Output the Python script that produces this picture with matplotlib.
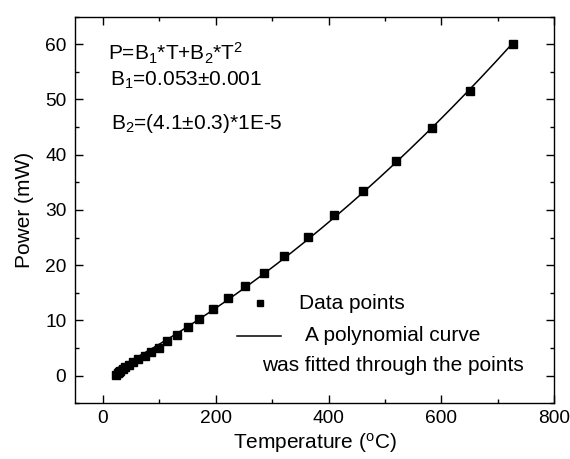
import numpy as np
import matplotlib
matplotlib.use("Agg")
import matplotlib.pyplot as plt
from matplotlib.ticker import MultipleLocator

plt.rcParams['font.family'] = ['Liberation Sans', 'DejaVu Sans']
plt.rcParams['mathtext.fontset'] = 'custom'
plt.rcParams['mathtext.rm'] = 'Liberation Sans'
plt.rcParams['mathtext.it'] = 'Liberation Sans:italic'

# Data
temperature = [24, 26, 28, 31, 35, 40, 46, 54, 63, 74, 86, 99, 114, 131, 150,
               171, 196, 222, 252, 285, 321, 363, 410, 461, 520, 584, 651, 727]
power = [0.2, 0.4, 0.7, 0.9, 1.2, 1.6, 2.0, 2.5, 3.0, 3.5, 4.2, 5.1, 6.2, 7.4, 8.75,
         10.3, 12.1, 14.0, 16.3, 18.6, 21.7, 25.1, 29.1, 33.5, 38.8, 44.8, 51.5, 60.1]

eq_text = "P=B$_1$*T+B$_2$*T$^2$"
b1_text = "B$_1$=0.053$\\pm$0.001"
b2_text = "B$_2$=(4.1$\\pm$0.3)*1E-5"

FS = 15
TICK_FS = 13.8

T = np.array(temperature, dtype=float)
P = np.array(power, dtype=float)
# least-squares fit P = B1*T + B2*T^2
A = np.vstack([T, T**2]).T
coef, *_ = np.linalg.lstsq(A, P, rcond=None)
Tf = np.linspace(T.min(), T.max(), 300)
Pf = coef[0] * Tf + coef[1] * Tf**2

fig = plt.figure(figsize=(5.7, 4.59), dpi=100)
ax = fig.add_axes([0.131, 0.1213, 0.8415, 0.8427])

ax.plot(Tf, Pf, color='black', lw=1.1)
ax.plot(T, P, 's', color='black', markersize=6.0)

ax.set_xlim(-50, 800)
ax.set_ylim(-5, 65)
ax.xaxis.set_major_locator(MultipleLocator(200))
ax.xaxis.set_minor_locator(MultipleLocator(100))
ax.yaxis.set_major_locator(MultipleLocator(10))
ax.yaxis.set_minor_locator(MultipleLocator(5))
ax.tick_params(which='both', direction='in', top=True, right=True, labelsize=TICK_FS, width=1.0)
ax.tick_params(which='major', length=5.5)
ax.tick_params(axis='x', which='major', pad=5)
ax.tick_params(axis='y', which='major', pad=6)
ax.tick_params(which='minor', length=3.2)
for s in ax.spines.values():
    s.set_linewidth(1.0)

ax.set_xlabel("Temperature ($^\\mathregular{o}$C)", fontsize=FS, labelpad=3)
ax.set_ylabel("Power (mW)", fontsize=FS, labelpad=8)

ax.text(0.0696, 0.905, eq_text, transform=ax.transAxes, fontsize=FS, va='center', ha='left')
ax.text(0.074, 0.836, b1_text, transform=ax.transAxes, fontsize=FS, va='center', ha='left')
ax.text(0.076, 0.724, b2_text, transform=ax.transAxes, fontsize=FS, va='center', ha='left')

# legend drawn manually
ax.plot([0.386], [0.259], 's', color='black', markersize=5.0, transform=ax.transAxes, clip_on=False)
ax.text(0.468, 0.259, "Data points", transform=ax.transAxes, fontsize=FS, va='center', ha='left')
ax.plot([0.339, 0.430], [0.174, 0.174], color='black', lw=1.1, transform=ax.transAxes)
ax.text(0.480, 0.176, "A polynomial curve", transform=ax.transAxes, fontsize=FS, va='center', ha='left')
ax.text(0.391, 0.099, "was fitted through the points", transform=ax.transAxes, fontsize=FS, va='center', ha='left')

fig.savefig("out.png", dpi=100)
